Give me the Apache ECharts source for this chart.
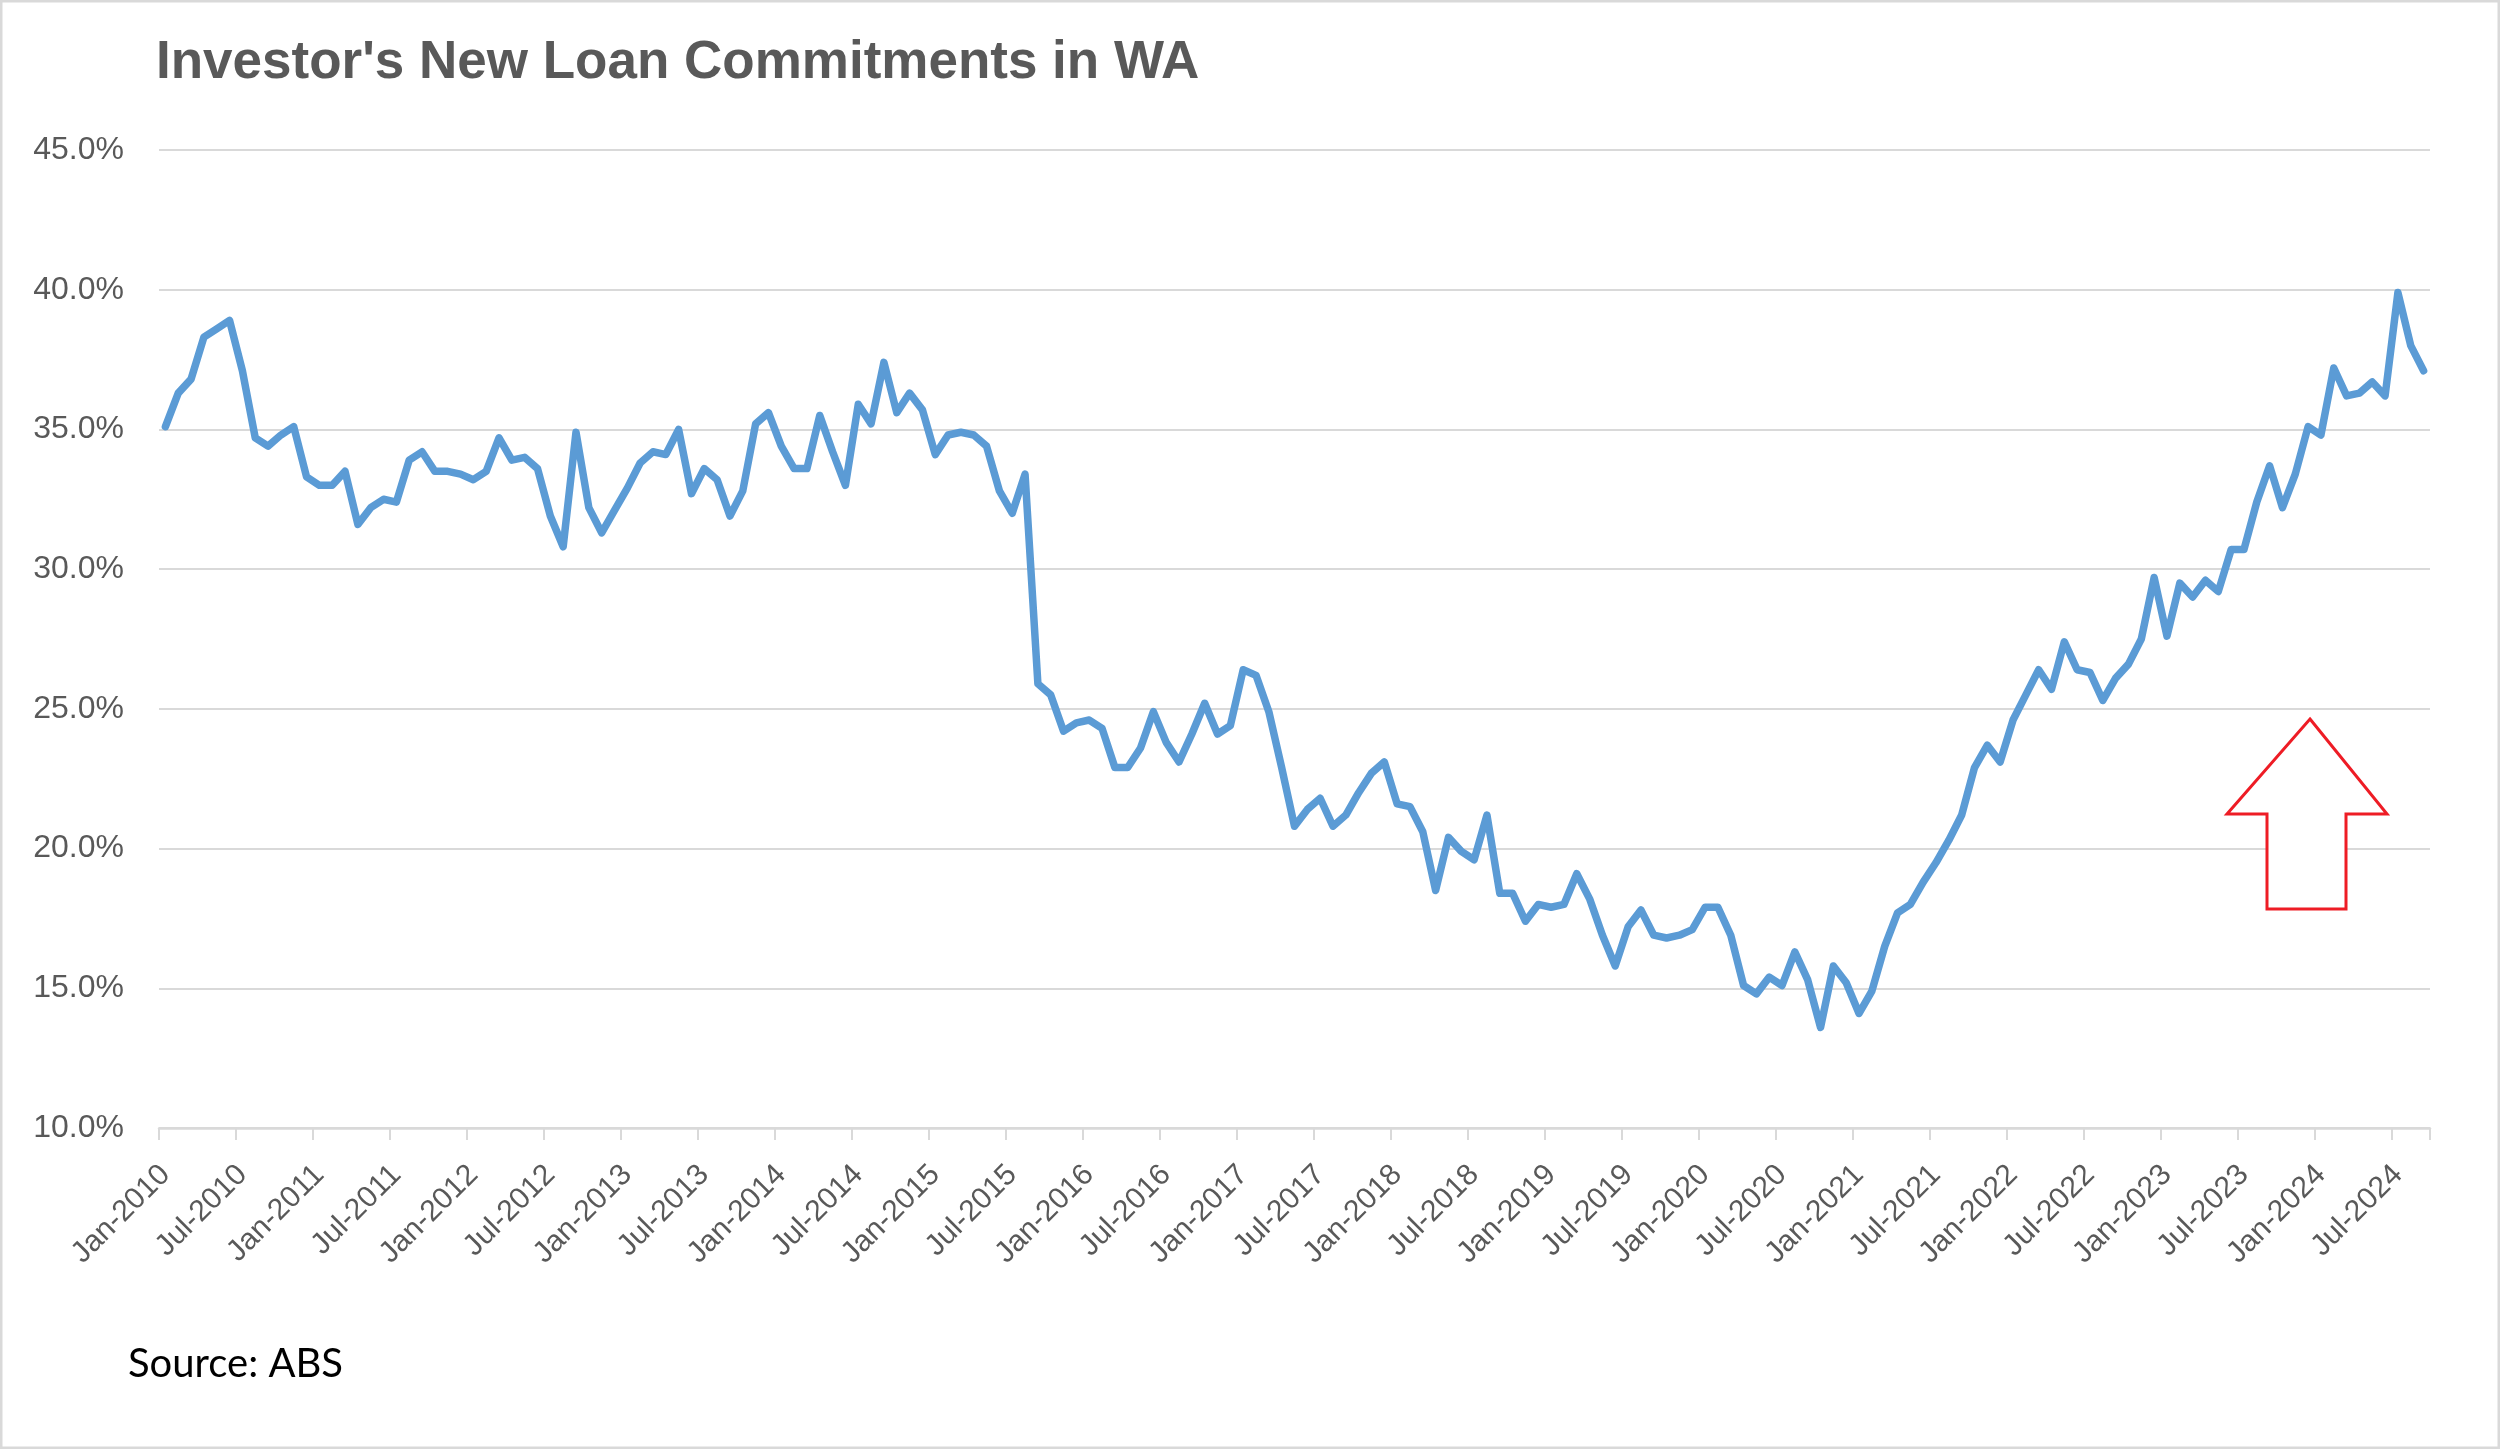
<!DOCTYPE html>
<html>
<head>
<meta charset="utf-8">
<script src="https://cdn.jsdelivr.net/npm/echarts@6/dist/echarts.min.js"></script>
<style>
html,body{margin:0;padding:0;background:#fff;}
#chart{width:2500px;height:1449px;}
</style>
</head>
<body>
<div id="chart"></div>
<script>
// ---- Data (share of investor loans, %), monthly Jan-2010 .. Sep-2024 ----
const monthNames = ['Jan','Feb','Mar','Apr','May','Jun','Jul','Aug','Sep','Oct','Nov','Dec'];
const startYear = 2010;

const v2010 = [35.1, 36.3, 36.8, 38.3, 38.6, 38.9, 37.1, 34.7, 34.4, 34.8, 35.1, 33.3];
const v2011 = [33.0, 33.0, 33.5, 31.6, 32.2, 32.5, 32.4, 33.9, 34.2, 33.5, 33.5, 33.4];
const v2012 = [33.2, 33.5, 34.7, 33.9, 34.0, 33.6, 31.9, 30.8, 34.9, 32.2, 31.3, 32.1];
const v2013 = [32.9, 33.8, 34.2, 34.1, 35.0, 32.7, 33.6, 33.2, 31.9, 32.8, 35.2, 35.6];
const v2014 = [34.4, 33.6, 33.6, 35.5, 34.2, 33.0, 35.9, 35.2, 37.4, 35.6, 36.3, 35.7];
const v2015 = [34.1, 34.8, 34.9, 34.8, 34.4, 32.8, 32.0, 33.4, 25.9, 25.5, 24.2, 24.5];
const v2016 = [24.6, 24.3, 22.9, 22.9, 23.6, 24.9, 23.8, 23.1, 24.1, 25.2, 24.1, 24.4];
const v2017 = [26.4, 26.2, 24.9, 22.9, 20.8, 21.4, 21.8, 20.8, 21.2, 22.0, 22.7, 23.1];
const v2018 = [21.6, 21.5, 20.6, 18.5, 20.4, 19.9, 19.6, 21.2, 18.4, 18.4, 17.4, 18.0];
const v2019 = [17.9, 18.0, 19.1, 18.2, 16.9, 15.8, 17.2, 17.8, 16.9, 16.8, 16.9, 17.1];
const v2020 = [17.9, 17.9, 16.9, 15.1, 14.8, 15.4, 15.1, 16.3, 15.3, 13.6, 15.8, 15.2];
const v2021 = [14.1, 14.9, 16.5, 17.7, 18.0, 18.8, 19.5, 20.3, 21.2, 22.9, 23.7, 23.1];
const v2022 = [24.6, 25.5, 26.4, 25.7, 27.4, 26.4, 26.3, 25.3, 26.1, 26.6, 27.5, 29.7];
const v2023 = [27.6, 29.5, 29.0, 29.6, 29.2, 30.7, 30.7, 32.4, 33.7, 32.2, 33.4, 35.1];
const v2024 = [34.8, 37.2, 36.2, 36.3, 36.7, 36.2, 39.9, 38.0, 37.1];

const values = [].concat(v2010, v2011, v2012, v2013, v2014, v2015, v2016, v2017,
                         v2018, v2019, v2020, v2021, v2022, v2023, v2024);
const categories = values.map((_, i) => monthNames[i % 12] + '-' + (startYear + Math.floor(i / 12)));

const yMin = 10, yMax = 45, yStep = 5;
const labelEvery = 6;

const titleText = "Investor's New Loan Commitments in WA";
const sourceText = 'Source: ABS';

const chart = echarts.init(document.getElementById('chart'), null, {renderer: 'canvas'});

const option = {
  backgroundColor: '#ffffff',
  animation: false,
  title: {
    text: titleText,
    left: 156,
    top: 37,
    padding: 0,
    textStyle: {
      fontFamily: 'Liberation Sans',
      fontWeight: 'bold',
      fontSize: 53,
      color: '#595959'
    }
  },
  grid: {
    left: 159,
    right: 70,
    top: 150,
    bottom: 321,
    containLabel: false
  },
  xAxis: {
    type: 'category',
    data: categories,
    boundaryGap: true,
    axisLine: {show: true, lineStyle: {color: '#d9d9d9', width: 2.5}},
    axisTick: {
      show: true,
      alignWithLabel: false,
      interval: (i) => i % labelEvery === 0,
      length: 12,
      lineStyle: {color: '#d9d9d9', width: 2}
    },
    axisLabel: {
      interval: (i) => i % labelEvery === 0,
      rotate: 45,
      margin: 42,
      color: '#595959',
      fontFamily: 'Liberation Sans',
      fontSize: 30
    },
    splitLine: {show: false}
  },
  yAxis: {
    type: 'value',
    min: yMin,
    max: yMax,
    interval: yStep,
    axisLine: {show: false},
    axisTick: {show: false},
    axisLabel: {
      formatter: (v) => v.toFixed(1) + '%',
      margin: 35,
      color: '#595959',
      fontFamily: 'Liberation Sans',
      fontSize: 32
    },
    splitLine: {show: true, lineStyle: {color: '#d9d9d9', width: 2}}
  },
  series: [{
    type: 'line',
    data: values,
    symbol: 'none',
    showSymbol: false,
    lineStyle: {color: '#5b9bd5', width: 7.5, cap: 'round', join: 'round'},
    z: 3
  }],
  graphic: [
    {
      type: 'rect',
      shape: {x: 1.25, y: 1.25, width: 2497.5, height: 1446.5},
      style: {fill: null, stroke: '#d9d9d9', lineWidth: 2.5},
      z: 100,
      silent: true
    },
    {
      type: 'polygon',
      shape: {
        points: [[2310, 719], [2387, 814], [2346, 814], [2346, 909],
                 [2267, 909], [2267, 814], [2227, 814]]
      },
      style: {fill: '#ffffff', stroke: '#ee1c25', lineWidth: 3, lineJoin: 'miter'},
      z: 50,
      silent: true
    },
    {
      type: 'text',
      left: 128,
      top: 1344,
      style: {
        text: sourceText,
        fontFamily: 'Lato',
        fontSize: 40,
        fill: '#000000'
      },
      z: 50
    }
  ]
};

chart.setOption(option);
</script>
</body>
</html>
